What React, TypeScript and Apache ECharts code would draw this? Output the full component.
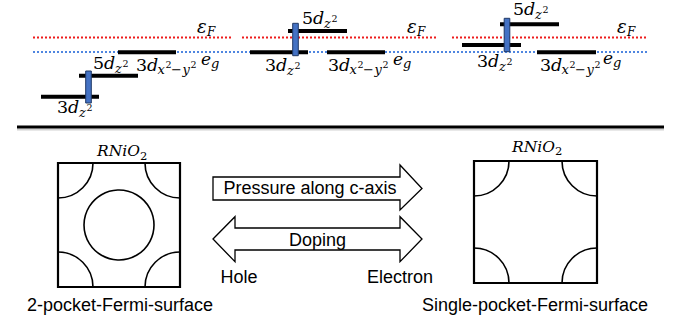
import React, { useEffect, useRef } from 'react';
import * as echarts from 'echarts';

const W = 680;
const H = 320;

// energy-level bars: [xStart, xEnd, level]
const levelBars = [
  [41, 99, 96.7], [79, 138, 75.7], [118, 176, 52.3],
  [250, 308, 52.3], [288, 347, 31], [327, 385, 52.3],
  [462, 521, 45], [500, 559, 24.3], [537, 596, 52.3],
];
// hybridisation markers: [xCenter, top, bottom]
const hybridMarkers = [
  [88.5, 71, 103], [295.5, 23.3, 55.7], [507, 18.3, 51.7],
];
// Fermi level (red) and e_g level (blue): [xStart, xEnd, level]
const fermiLevelLines = [[33, 232, 37.5], [242, 437, 37.5], [452, 648, 37.5]];
const egLevelLines = [[33, 648, 52]];
const separatorLines = [[17, 664, 127]];
// Fermi surfaces: [x0, y0, x1, y1, hasCentralPocket]
const fermiBoxes = [[58, 163, 180, 287, 1], [474, 161, 597, 283, 0]];
const pocketRadius = 35;
// math labels: [x, baseline, kind, digit]  kind 0=Nd_z2 1=Nd_x2-y2 2=e_g 3=eps_F 4=RNiO2
const mathLabels = [
  [93, 69, 0, 5], [136, 71, 1, 3], [57, 113, 0, 3], [201, 65, 2, 0], [197, 33, 3, 0],
  [302, 24, 0, 5], [265, 71, 0, 3], [328, 71, 1, 3], [393, 65, 2, 0], [407, 33, 3, 0],
  [513, 15, 0, 5], [477, 67, 0, 3], [540, 71, 1, 3], [603, 64, 2, 0], [617, 33, 3, 0],
  [97, 156.7, 4, 0], [512, 152, 4, 0],
];
const arrowShapes = [
  [[213, 177], [400, 177], [400, 165], [422, 188.5], [400, 210], [400, 200], [213, 200]],
  [[213, 239], [235, 216.7], [235, 228], [400, 228], [400, 216.7], [422, 239], [400, 261.7], [400, 250], [235, 250], [235, 261.7]],
];
const captionTexts = ['Pressure along c-axis', 'Doping', 'Hole', 'Electron', '2-pocket-Fermi-surface', 'Single-pocket-Fermi-surface'];
const captionPos = [[310, 188], [317.5, 240], [239, 277], [400, 277], [120, 305], [535, 305]];

const SERIF = '"DejaVu Serif", serif';
const SANS = '"Liberation Sans", Arial, sans-serif';

type Piece = [string, number, number, number, boolean];
function labelPieces(kind: number, digit: number): Piece[] {
  const d = String(digit);
  if (kind === 0) return [[d, 0, 0, 17.5, false], ['d', 11, 0, 17.5, true], ['z', 22, 4, 13, true], ['2', 29.5, -2.5, 9.5, false]];
  if (kind === 1) return [[d, 0, 0, 17.5, false], ['d', 11, 0, 17.5, true], ['x', 21.5, 3.5, 13, true], ['2', 29.5, -3, 9.5, false], ['\u2212', 35, 3.5, 13, false], ['y', 46.5, 3.5, 13, true], ['2', 54.5, -3, 9.5, false]];
  if (kind === 2) return [['e', 0, 0, 17, true], ['g', 10, 3.5, 13, true]];
  if (kind === 3) return [['\u03b5', 0, 0, 18, true], ['F', 10, 3, 12, true]];
  return [['RNiO', 0, 0, 15.5, true], ['2', 43, 3.5, 11.5, false]];
}

function hLineSeries(data: number[][], stroke: string, width: number, dash?: number[]) {
  return {
    type: 'custom', coordinateSystem: 'cartesian2d', silent: true, clip: false, data,
    renderItem: (_p: any, api: any) => {
      const a = api.coord([api.value(0), api.value(2)]);
      const b = api.coord([api.value(1), api.value(2)]);
      return { type: 'line', shape: { x1: a[0], y1: a[1], x2: b[0], y2: b[1] }, style: { stroke, lineWidth: width, lineDash: dash || null, fill: 'none' } };
    },
  };
}

export default function App() {
  const ref = useRef<HTMLDivElement>(null);
  useEffect(() => {
    document.body.style.margin = '0';
    const chart = echarts.init(ref.current!, null, { renderer: 'svg' });
    const option: any = {
      animation: false,
      grid: { left: 0, right: 0, top: 0, bottom: 0 },
      xAxis: { type: 'value', min: 0, max: W, show: false },
      yAxis: { type: 'value', min: 0, max: H, inverse: true, show: false },
      series: [
        hLineSeries(egLevelLines, '#4f86e0', 2, [2, 2]),
        hLineSeries(fermiLevelLines, '#ee1c1c', 2, [2, 2]),
        hLineSeries(separatorLines.map((l) => [l[0], l[1], l[2] + 2.5]), 'rgba(0,0,0,0.18)', 2),
        hLineSeries(separatorLines, '#000', 3),
        {
          type: 'custom', coordinateSystem: 'cartesian2d', silent: true, clip: false, data: levelBars,
          renderItem: (_p: any, api: any) => {
            const a = api.coord([api.value(0), api.value(2)]);
            const b = api.coord([api.value(1), api.value(2)]);
            return { type: 'rect', shape: { x: a[0], y: a[1] - 2, width: b[0] - a[0], height: 4 }, style: { fill: '#000' } };
          },
        },
        {
          type: 'custom', coordinateSystem: 'cartesian2d', silent: true, clip: false, data: hybridMarkers,
          renderItem: (_p: any, api: any) => {
            const a = api.coord([api.value(0), api.value(1)]);
            const b = api.coord([api.value(0), api.value(2)]);
            return { type: 'rect', shape: { x: a[0] - 2.8, y: a[1], width: 5.6, height: b[1] - a[1] }, style: { fill: '#4472c4', stroke: '#1f3864', lineWidth: 1 } };
          },
        },
        {
          type: 'custom', coordinateSystem: 'cartesian2d', silent: true, clip: false, data: fermiBoxes,
          renderItem: (_p: any, api: any) => {
            const p0 = api.coord([api.value(0), api.value(1)]);
            const p1 = api.coord([api.value(2), api.value(3)]);
            const r = api.size([pocketRadius, pocketRadius])[0];
            const arcStyle = { stroke: '#000', lineWidth: 1.6, fill: 'none' };
            const corners = [
              [p0[0], p0[1], 0], [p1[0], p0[1], Math.PI / 2], [p1[0], p1[1], Math.PI], [p0[0], p1[1], Math.PI * 1.5],
            ];
            const children: any[] = [
              { type: 'rect', shape: { x: p0[0], y: p0[1], width: p1[0] - p0[0], height: p1[1] - p0[1] }, style: { fill: 'none', stroke: '#000', lineWidth: 2.2 } },
            ];
            corners.forEach((c) => {
              children.push({ type: 'arc', shape: { cx: c[0], cy: c[1], r, startAngle: c[2], endAngle: c[2] + Math.PI / 2, clockwise: true }, style: arcStyle });
            });
            if (api.value(4) > 0) {
              children.push({ type: 'circle', shape: { cx: (p0[0] + p1[0]) / 2, cy: (p0[1] + p1[1]) / 2, r }, style: arcStyle });
            }
            return { type: 'group', children };
          },
        },
        {
          type: 'custom', coordinateSystem: 'cartesian2d', silent: true, clip: false,
          data: arrowShapes.map((pts, i) => [pts[0][0], pts[0][1], i]),
          renderItem: (_p: any, api: any) => {
            const pts = arrowShapes[api.value(2)].map((pt) => api.coord(pt));
            return { type: 'polygon', shape: { points: pts }, style: { fill: '#fff', stroke: '#000', lineWidth: 1.3 } };
          },
        },
        {
          type: 'custom', coordinateSystem: 'cartesian2d', silent: true, clip: false,
          data: captionPos.map((p, i) => [p[0], p[1], i]),
          renderItem: (_p: any, api: any) => {
            const c = api.coord([api.value(0), api.value(1)]);
            return { type: 'text', x: c[0], y: c[1], style: { text: captionTexts[api.value(2)], fill: '#000', fontSize: 18, fontFamily: SANS, align: 'center', verticalAlign: 'middle' } };
          },
        },
        {
          type: 'custom', coordinateSystem: 'cartesian2d', silent: true, clip: false, data: mathLabels,
          renderItem: (_p: any, api: any) => {
            const c = api.coord([api.value(0), api.value(1)]);
            const pieces = labelPieces(api.value(2), api.value(3));
            return {
              type: 'group',
              children: pieces.map((pc) => ({
                type: 'text', x: c[0] + pc[1], y: c[1] + pc[2] - 0.35 * pc[3],
                style: { text: pc[0], fill: '#000', fontSize: pc[3], fontFamily: SERIF, fontStyle: pc[4] ? 'italic' : 'normal', align: 'left', verticalAlign: 'middle' },
              })),
            };
          },
        },
      ],
    };
    chart.setOption(option);
    return () => chart.dispose();
  }, []);
  return <div ref={ref} style={{ width: W, height: H, background: '#fff' }} />;
}
